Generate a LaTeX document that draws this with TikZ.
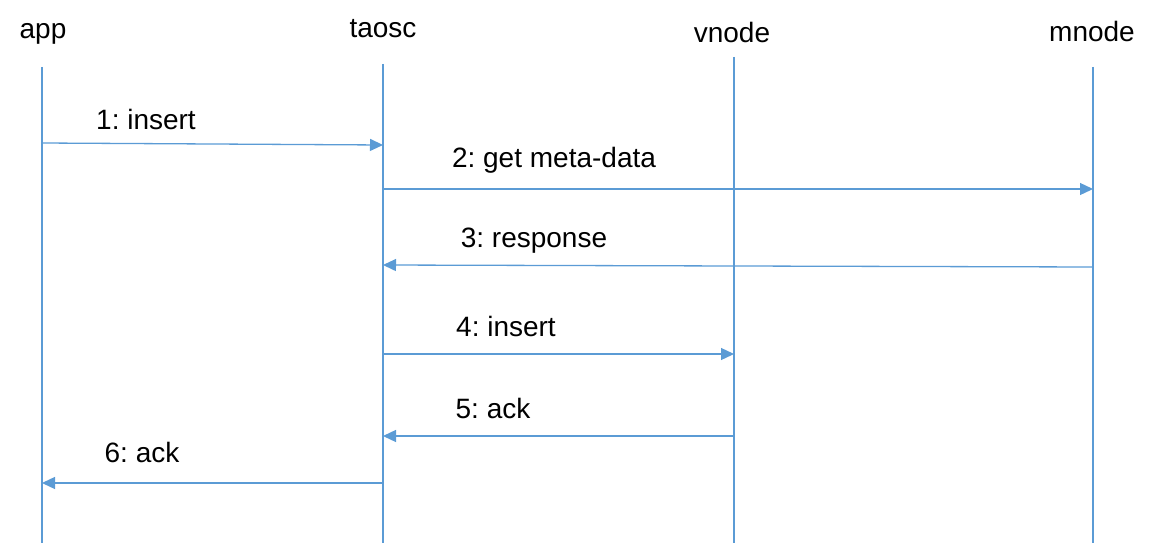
\documentclass[tikz,border=0pt]{standalone}
\usepackage{fontspec}
\setmainfont{Liberation Sans}
\frenchspacing
\usetikzlibrary{arrows.meta}
\definecolor{seqblue}{RGB}{91,155,213}
\tikzset{
  lifeline/.style={seqblue, line width=1.3pt},
  msg/.style={seqblue, line width=1.3pt, -{Triangle[length=13pt,width=12pt]}},
  head/.style={anchor=base, font=\fontsize{28}{32}\selectfont},
  msglabel/.style={anchor=base, font=\fontsize{28}{32}\selectfont}
}
\begin{document}
\begin{tikzpicture}[x=1pt,y=-1pt]
    \useasboundingbox (0,0) rectangle (1154,543);
    % participants
    \node[head] (app) at (43,39) {app};
    \node[head] (taosc) at (383,38) {taosc};
    \node[head] (vnode) at (732,43) {vnode};
    \node[head] (mnode) at (1092,42) {mnode};
    \coordinate (appT) at (42,67);     \coordinate (appB) at (42,543);
    \coordinate (taoscT) at (383,64);  \coordinate (taoscB) at (383,543);
    \coordinate (vnodeT) at (734,57);  \coordinate (vnodeB) at (734,543);
    \coordinate (mnodeT) at (1093,67); \coordinate (mnodeB) at (1093,543);
    \draw[lifeline] (appT) -- (appB);
    \draw[lifeline] (taoscT) -- (taoscB);
    \draw[lifeline] (vnodeT) -- (vnodeB);
    \draw[lifeline] (mnodeT) -- (mnodeB);

    % messages
    \coordinate (m1s) at (42,143);   \coordinate (m1e) at (383,145);
    \coordinate (m2s) at (383,189);  \coordinate (m2e) at (1093,189);
    \coordinate (m3s) at (1093,267); \coordinate (m3e) at (383,265);
    \coordinate (m4s) at (383,354);  \coordinate (m4e) at (734,354);
    \coordinate (m5s) at (734,436);  \coordinate (m5e) at (383,436);
    \coordinate (m6s) at (383,483);  \coordinate (m6e) at (42,483);
    \draw[msg] (m1s) -- (m1e);
    \draw[msg] (m2s) -- (m2e);
    \draw[msg] (m3s) -- (m3e);
    \draw[msg] (m4s) -- (m4e);
    \draw[msg] (m5s) -- (m5e);
    \draw[msg] (m6s) -- (m6e);
    \node[msglabel] (l1) at (146,129) {1: insert};
    \node[msglabel] (l2) at (554,167) {2: get meta-data};
    \node[msglabel] (l3) at (534,247) {3: response};
    \node[msglabel] (l4) at (506,336) {4: insert};
    \node[msglabel] (l5) at (493,418) {5: ack};
    \node[msglabel] (l6) at (142,462) {6: ack};
\end{tikzpicture}
\end{document}
